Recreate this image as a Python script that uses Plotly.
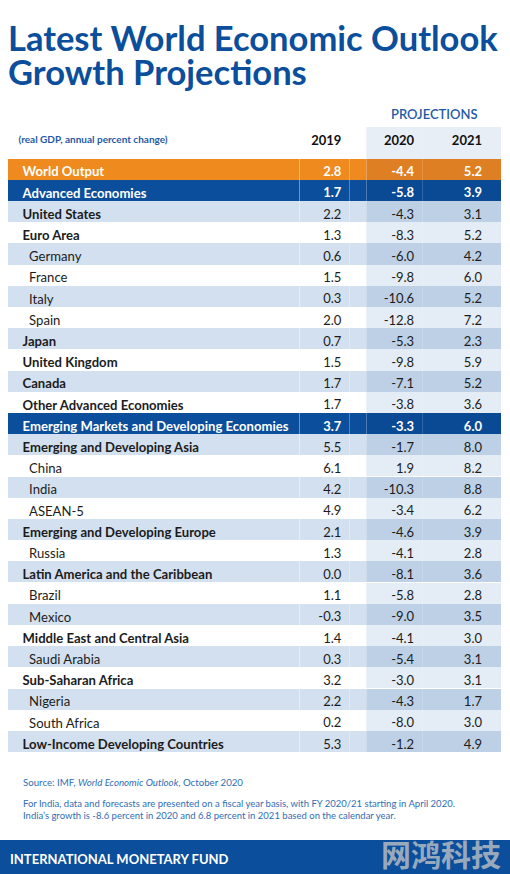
import plotly.graph_objects as go

W, H = 510, 874

# ---------------- data ----------------
labels = [
    "World Output", "Advanced Economies", "United States", "Euro Area", "Germany",
    "France", "Italy", "Spain", "Japan", "United Kingdom", "Canada",
    "Other Advanced Economies", "Emerging Markets and Developing Economies",
    "Emerging and Developing Asia", "China", "India", "ASEAN-5",
    "Emerging and Developing Europe", "Russia", "Latin America and the Caribbean",
    "Brazil", "Mexico", "Middle East and Central Asia", "Saudi Arabia",
    "Sub-Saharan Africa", "Nigeria", "South Africa", "Low-Income Developing Countries",
]
kinds = [
    "world", "group", "region", "region", "country",
    "country", "country", "country", "region", "region", "region",
    "region", "group",
    "region", "country", "country", "country",
    "region", "country", "region",
    "country", "country", "region", "country",
    "region", "country", "country", "region",
]
g2019 = [2.8, 1.7, 2.2, 1.3, 0.6, 1.5, 0.3, 2.0, 0.7, 1.5, 1.7, 1.7, 3.7,
         5.5, 6.1, 4.2, 4.9, 2.1, 1.3, 0.0, 1.1, -0.3, 1.4, 0.3, 3.2, 2.2, 0.2, 5.3]
g2020 = [-4.4, -5.8, -4.3, -8.3, -6.0, -9.8, -10.6, -12.8, -5.3, -9.8, -7.1, -3.8, -3.3,
         -1.7, 1.9, -10.3, -3.4, -4.6, -4.1, -8.1, -5.8, -9.0, -4.1, -5.4, -3.0, -4.3, -8.0, -1.2]
g2021 = [5.2, 3.9, 3.1, 5.2, 4.2, 6.0, 5.2, 7.2, 2.3, 5.9, 5.2, 3.6, 6.0,
         8.0, 8.2, 8.8, 6.2, 3.9, 2.8, 3.6, 2.8, 3.5, 3.0, 3.1, 3.1, 1.7, 3.0, 4.9]
years = ["2019", "2020", "2021"]
unit_label = "(real GDP, annual percent change)"
proj_label = "PROJECTIONS"
title_lines = ["Latest World Economic Outlook", "Growth Projections"]
source_note = "Source: IMF, <i>World Economic Outlook</i>, October 2020"
india_note = ["For India, data and forecasts are presented on a fiscal year basis, with FY 2020/21 starting in April 2020.",
              "India’s growth is -8.6 percent in 2020 and 6.8 percent in 2021 based on the calendar year."]
footer_label = "INTERNATIONAL MONETARY FUND"
watermark = "网鸿科技"

# ---------------- styles ----------------
BLUE = "#0b4e9b"
NOTE_BLUE = "#2f6db3"
ORANGE = "#ee8a1e"
FONT = "Lato"
NB = "\u00a0"
EN = "\u2002"
CLEAR = "rgba(0,0,0,0)"


def px_x(x):
    return x / W


def px_y(y):
    return 1 - y / H


row_base, row_proj, row_font = [], [], []
state = 0
for k in kinds:
    if k == "world":
        row_base.append(ORANGE); row_proj.append("#de7f23"); row_font.append("white")
    elif k == "group":
        row_base.append(BLUE); row_proj.append("#0a4a94"); row_font.append("white")
        state = 0
    else:
        if state % 2 == 0:
            row_base.append("#d3e0ef"); row_proj.append("#bdd0e6")
        else:
            row_base.append("#ffffff"); row_proj.append("#e4ecf5")
        row_font.append("#1c1c1c")
        state += 1

label_bold = [k != "country" for k in kinds]
num_bold = [k in ("world", "group") for k in kinds]


def lab(name, kind):
    return (EN * 2 if kind == "country" else EN) + name.replace(" ", NB)


col_label = [lab(n, k) for n, k in zip(labels, kinds)]
col_19 = [f"{v:.1f}" for v in g2019]
col_20 = [f"{v:.1f}" for v in g2020]
col_21 = [f"{v:.1f}" for v in g2021]
blank = [""] * len(labels)


def pick(col, mask, keep):
    return [t if m == keep else "" for t, m in zip(col, mask)]


HEADER_H = 31.5
ROW_H = 21.2
DOMAIN = dict(x=[px_x(8), px_x(502)], y=[px_y(762), px_y(127)])
CW = [292, 50, 17, 56, 68, 11]
ALIGN = ["left", "right", "right", "right", "right", "right"]
SIZES = [13.1, 13, 13, 13, 13, 13]
PROJ_HEAD = "#e8eef5"

# base table: fills + regular-weight texts
base = go.Table(
    domain=DOMAIN, columnwidth=CW,
    header=dict(
        values=[NB + unit_label.replace(" ", NB), years[0], "", years[1], years[2], ""],
        align=ALIGN,
        fill_color=[CLEAR, CLEAR, CLEAR, PROJ_HEAD, PROJ_HEAD, PROJ_HEAD],
        font=dict(family=FONT, size=[10, 13, 13, 13, 13, 13],
                  color=["#1f5aa6", "#111", "#111", "#111", "#111", "#111"],
                  weight="bold"),
        line=dict(width=0), height=HEADER_H,
    ),
    cells=dict(
        values=[pick(col_label, label_bold, False), pick(col_19, num_bold, False), blank,
                pick(col_20, num_bold, False), pick(col_21, num_bold, False), blank],
        align=ALIGN,
        fill_color=[row_base, row_base, row_base, row_proj, row_proj, row_proj],
        font=dict(family=FONT, size=SIZES, color=[row_font] * 6, weight="normal"),
        line=dict(width=0), height=ROW_H,
    ),
)
# overlay table: bold texts only, transparent fills
bold = go.Table(
    domain=DOMAIN, columnwidth=CW,
    header=dict(values=[""] * 6, fill_color=CLEAR, line=dict(width=0), height=HEADER_H),
    cells=dict(
        values=[pick(col_label, label_bold, True), pick(col_19, num_bold, True), blank,
                pick(col_20, num_bold, True), pick(col_21, num_bold, True), blank],
        align=ALIGN,
        fill_color=CLEAR,
        font=dict(family=FONT, size=SIZES, color=[row_font] * 6, weight="bold"),
        line=dict(width=0), height=ROW_H,
    ),
)
fig = go.Figure([base, bold])

ann = []
ann.append(dict(text="<b>" + title_lines[0] + "</b>", x=px_x(6), y=px_y(38),
                xanchor="left", yanchor="middle",
                font=dict(family=FONT, size=34.5, color=BLUE)))
ann.append(dict(text="<b>" + title_lines[1] + "</b>", x=px_x(6), y=px_y(72),
                xanchor="left", yanchor="middle",
                font=dict(family=FONT, size=34.5, color=BLUE)))
ann.append(dict(text=proj_label, x=px_x(434), y=px_y(114), xanchor="center", yanchor="middle",
                font=dict(family=FONT, size=13, color="#1f5aa6", weight=600)))
ann.append(dict(text=source_note, x=px_x(21), y=px_y(782), xanchor="left", yanchor="middle",
                font=dict(family=FONT, size=9.7, color=NOTE_BLUE)))
ann.append(dict(text=india_note[0] + "<br>" + india_note[1], x=px_x(21), y=px_y(809),
                xanchor="left", yanchor="middle", align="left",
                font=dict(family=FONT, size=9.5, color=NOTE_BLUE)))
ann.append(dict(text="<b>" + footer_label + "</b>", x=px_x(8), y=px_y(859), xanchor="left",
                yanchor="middle", font=dict(family=FONT, size=13, color="white")))
ann.append(dict(text="<b>" + watermark + "</b>", x=px_x(503), y=px_y(853), xanchor="right",
                yanchor="middle",
                font=dict(family="Noto Sans CJK SC", size=30, color="rgba(200,200,200,0.75)")))
for a in ann:
    a.update(xref="paper", yref="paper", showarrow=False)

fig.update_layout(
    width=W, height=H,
    margin=dict(l=0, r=0, t=0, b=0),
    paper_bgcolor="white", plot_bgcolor="white",
    annotations=ann,
    shapes=[dict(type="rect", xref="paper", yref="paper", x0=0, x1=1,
                 y0=0, y1=px_y(840), fillcolor=BLUE, line=dict(width=0), layer="below")],
)

fig.write_html("out.html", config={"displayModeBar": False},
               post_script="document.body.style.margin='0';")
